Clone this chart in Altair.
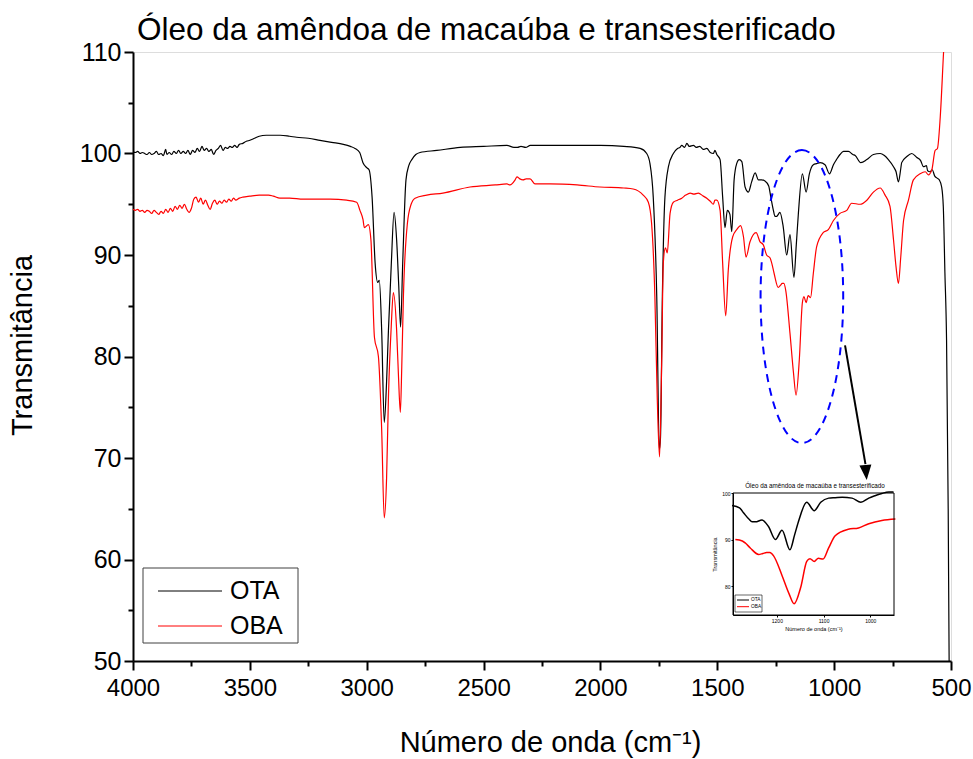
import altair as alt
import pandas as pd

TITLE = "Óleo da amêndoa de macaúba e transesterificado"
X_TITLE = "Número de onda (cm⁻¹)"
Y_TITLE = "Transmitância"
SERIES = ["OTA", "OBA"]
COLORS = ["#000000", "#ff0000"]

X_TICKS = [500, 750, 1000, 1250, 1500, 1750, 2000, 2250, 2500, 2750, 3000, 3250, 3500, 3750, 4000]
Y_TICKS = [50, 55, 60, 65, 70, 75, 80, 85, 90, 95, 100, 105, 110]
INSET_X_TICKS = [1000, 1100, 1200]
INSET_Y_TICKS = [80, 90, 100]

# (wavenumber cm-1, transmittance)
OTA = [(4000,100.2),(3990,100.1),(3980,100.2),(3970,100.0),(3960,100.1),(3950,100.0),(3940,99.9),(3930,100.1),
       (3920,99.9),(3910,100.0),(3900,100.2),(3890,99.9),(3880,100.0),(3870,99.8),(3860,100.4),(3855,99.9),
       (3845,100.1),(3835,99.9),(3825,100.2),(3815,100.0),(3805,100.3),(3795,100.0),(3785,100.2),(3775,100.0),
       (3765,100.3),(3755,99.9),(3745,100.3),(3735,100.1),(3725,100.5),(3715,100.2),(3705,100.7),(3695,100.3),
       (3685,100.5),(3675,100.2),(3665,100.4),(3655,99.9),(3645,100.3),(3635,100.5),(3625,100.8),(3615,100.3),
       (3605,100.6),(3595,100.5),(3585,100.7),(3575,100.6),(3565,100.8),(3555,100.6),(3545,100.9),(3530,101.0),
       (3515,101.2),(3500,101.3),(3480,101.5),(3460,101.7),(3430,101.8),(3400,101.8),(3370,101.8),(3330,101.7),
       (3300,101.6),(3250,101.5),(3200,101.3),(3150,101.1),(3100,100.9),(3070,100.7),(3050,100.5),(3030,100.1),
       (3016,99.1),(3000,98.6),(2990,98.4),(2977,95.7),(2964,89.2),(2953,87.3),(2946,87.5),(2936,82.6),
       (2925,73.5),(2915,77.5),(2907,82.6),(2895,89.0),(2883,94.2),(2872,91.5),(2863,87.0),(2855,82.9),
       (2846,89.2),(2832,97.4),(2820,98.8),(2807,99.4),(2790,99.9),(2772,100.1),(2700,100.3),(2600,100.6),
       (2500,100.7),(2400,100.8),(2370,100.6),(2355,100.6),(2340,100.7),(2320,100.6),(2300,100.8),(2200,100.8),
       (2100,100.8),(2000,100.8),(1900,100.7),(1830,100.5),(1802,100.0),(1788,99.0),(1774,95.7),(1759,85.9),
       (1748,70.8),(1743,72.0),(1735,85.9),(1724,95.7),(1709,98.7),(1688,100.0),(1670,100.5),(1660,100.6),
       (1652,100.8),(1640,100.6),(1630,101.0),(1620,100.7),(1602,100.8),(1590,100.6),(1575,100.7),(1560,100.4),
       (1545,100.5),(1530,100.1),(1517,100.0),(1510,100.3),(1502,99.9),(1488,99.4),(1477,95.7),(1467,92.7),
       (1457,94.4),(1446,94.0),(1438,92.3),(1428,97.4),(1417,99.0),(1406,99.4),(1395,99.2),(1381,96.7),
       (1367,96.2),(1353,97.2),(1338,98.1),(1324,97.4),(1310,97.4),(1296,97.3),(1280,96.8),(1271,95.7),
       (1260,94.4),(1253,93.8),(1246,93.8),(1232,94.2),(1218,92.8),(1203,90.0),(1189,92.0),(1172,87.8),
       (1162,91.0),(1153,94.1),(1136,98.0),(1120,96.2),(1106,98.0),(1089,98.9),(1075,99.0),(1060,99.1),
       (1039,98.9),(1020,98.0),(1003,98.9),(990,99.4),(975,99.9),(960,100.2),(950,100.2),(939,100.2),
       (920,99.9),(910,99.8),(886,99.1),(860,99.4),(832,99.9),(803,100.0),(785,99.8),(768,99.4),
       (746,98.7),(735,98.2),(725,97.2),(715,98.5),(711,99.1),(689,99.7),(668,100.0),(646,99.6),
       (630,99.3),(618,98.7),(605,98.8),(600,98.3),(590,98.2),(580,98.4),(570,97.8),(561,97.6),
       (550,97.4),(540,96.7),(533,94.8),(526,88.2),(519,81.6),(512,65.0),(508,50.0),(505,45.0)]

OBA = [(4000,94.5),(3990,94.4),(3980,94.5),(3970,94.3),(3960,94.4),(3950,94.2),(3940,94.4),(3930,94.3),
       (3920,94.1),(3910,94.4),(3900,94.2),(3890,94.0),(3880,94.3),(3870,94.1),(3860,94.5),(3850,94.2),
       (3840,94.6),(3830,94.3),(3820,94.8),(3810,94.5),(3800,94.9),(3790,94.6),(3780,95.0),(3770,94.5),
       (3760,94.2),(3750,94.6),(3740,95.5),(3730,95.7),(3720,95.2),(3710,95.6),(3700,95.0),(3690,95.4),
       (3680,94.9),(3670,94.5),(3660,95.1),(3650,95.4),(3640,95.0),(3630,95.3),(3620,95.1),(3610,95.4),
       (3600,95.2),(3590,95.5),(3580,95.3),(3570,95.6),(3560,95.4),(3545,95.6),(3530,95.7),(3500,95.8),
       (3460,95.9),(3420,95.9),(3400,95.8),(3371,95.6),(3330,95.6),(3271,95.5),(3200,95.5),(3157,95.5),
       (3086,95.4),(3043,95.2),(3029,94.4),(3016,93.5),(3010,92.7),(2993,93.0),(2982,91.5),(2967,81.9),
       (2950,80.0),(2936,72.8),(2925,64.1),(2915,68.0),(2907,76.0),(2895,83.0),(2886,86.3),(2872,82.6),
       (2864,78.0),(2856,74.5),(2850,79.0),(2843,85.9),(2826,93.1),(2810,95.0),(2793,95.6),(2743,95.9),
       (2674,96.1),(2558,96.7),(2450,96.9),(2400,97.0),(2387,96.9),(2365,97.4),(2357,97.7),(2345,97.5),
       (2331,97.4),(2318,97.5),(2301,97.5),(2280,97.0),(2216,97.0),(2100,96.9),(2002,96.7),(1900,96.6),
       (1860,96.5),(1817,95.9),(1795,95.2),(1781,93.1),(1767,85.9),(1757,76.0),(1747,70.1),(1738,79.3),
       (1731,89.2),(1722,90.7),(1714,90.2),(1702,94.1),(1688,95.2),(1670,95.4),(1652,95.6),(1635,95.9),
       (1616,96.1),(1600,96.0),(1581,96.1),(1560,95.8),(1545,95.6),(1530,95.3),(1517,95.0),(1510,95.4),
       (1502,95.4),(1488,94.4),(1477,89.2),(1464,84.0),(1453,88.5),(1434,91.8),(1417,92.5),(1400,92.9),
       (1388,91.8),(1377,89.8),(1360,91.3),(1334,92.2),(1317,91.3),(1303,91.0),(1289,90.0),(1274,89.7),
       (1267,89.2),(1257,88.2),(1239,86.8),(1230,87.0),(1222,87.2),(1215,87.2),(1207,86.5),(1189,82.3),
       (1174,78.4),(1163,76.2),(1149,79.7),(1136,85.3),(1129,85.9),(1120,85.3),(1111,86.0),(1101,85.8),
       (1089,88.2),(1075,90.8),(1047,92.2),(1025,92.5),(1003,93.4),(975,94.1),(946,94.4),(925,95.1),
       (889,95.0),(860,95.4),(832,96.2),(803,96.6),(782,95.9),(761,94.8),(746,91.5),(735,88.8),
       (725,87.2),(715,89.8),(703,93.4),(682,95.4),(661,97.4),(632,98.0),(610,98.2),(597,97.9),
       (582,98.4),(568,100.3),(558,100.5),(546,103.6),(532,109.9),(525,113.0)]

FONT = "Liberation Sans, Arial, sans-serif"

rows = [{"serie": "OTA", "wn": w, "t": t} for w, t in OTA] + \
       [{"serie": "OBA", "wn": w, "t": t} for w, t in OBA]
df = pd.DataFrame(rows)
one = pd.DataFrame({"k": [0]})

color = alt.Color("serie:N", scale=alt.Scale(domain=SERIES, range=COLORS), legend=None)

# ---------------- main plot ----------------
xs = alt.Scale(domain=[500, 4000], reverse=True, nice=False, zero=False)
ys = alt.Scale(domain=[50, 110], nice=False, zero=False)

x_axis = alt.Axis(
    title=X_TITLE, values=X_TICKS, format="d",
    labelExpr="datum.value % 500 === 0 ? datum.label : ''",
    tickSize={"condition": {"test": "datum.value % 500 === 0", "value": 9}, "value": 5},
    tickWidth=2, tickColor="black", domainColor="black", domainWidth=2,
    labelFont=FONT, labelFontSize=24, labelColor="black", labelPadding=6,
    labelFlush=False, labelOverlap=False,
    titleFont=FONT, titleFontSize=29, titleFontWeight="normal", titleColor="black",
    titleX=417, titleY=81, titleBaseline="middle", grid=False,
)
y_axis = alt.Axis(
    title=Y_TITLE, values=Y_TICKS, format="d",
    labelExpr="datum.value % 10 === 0 ? datum.label : ''",
    tickSize={"condition": {"test": "datum.value % 10 === 0", "value": 9}, "value": 5},
    tickWidth=2, tickColor="black", domainColor="black", domainWidth=2,
    labelFont=FONT, labelFontSize=25, labelColor="black", labelPadding=3,
    labelFlush=False, labelOverlap=False,
    titleFont=FONT, titleFontSize=29, titleFontWeight="normal", titleColor="black",
    titleAngle=270, titleX=-111, titleY=293, titleBaseline="middle", grid=False,
)

lines = alt.Chart(df).mark_line(clip=True, interpolate="monotone", strokeWidth=1.2).encode(
    x=alt.X("wn:Q", scale=xs, axis=x_axis),
    y=alt.Y("t:Q", scale=ys, axis=y_axis),
    color=color,
)

title_text = alt.Chart(one).mark_text(
    text=TITLE, font=FONT, fontSize=31.5, align="left", baseline="alphabetic", color="black"
).encode(x=alt.value(4), y=alt.value(-12))

ELLIPSE = "M0,-1A0.282,1 0 1,1 0,1A0.282,1 0 1,1 0,-1Z"
ellipse = alt.Chart(one).mark_point(
    shape=ELLIPSE, size=85849, filled=False, color="#0000ff", stroke="#0000ff",
    strokeWidth=2, strokeDash=[8, 6], opacity=1,
).encode(x=alt.XDatum(1138), y=alt.YDatum(85.9))

arrow = alt.Chart(one).mark_rule(color="black", strokeWidth=2).encode(
    x=alt.XDatum(953.4), y=alt.YDatum(81.1), x2=alt.X2Datum(866.0), y2=alt.Y2Datum(69.4)
)
HEAD = "M-0.75,-0.9375L0.75,-0.9375L0,0.9375Z"
head = alt.Chart(one).mark_point(
    shape=HEAD, size=256, filled=True, color="black", opacity=1, angle=355
).encode(x=alt.XDatum(863.5), y=alt.YDatum(68.57))

leg_box = alt.Chart(one).mark_rect(fill="white", stroke="#404040", strokeWidth=1).encode(
    x=alt.value(10), x2=alt.value(165), y=alt.value(516), y2=alt.value(591)
)
legend_layers = [leg_box]
for i, (name, col) in enumerate(zip(SERIES, COLORS)):
    yy = 539 + 35 * i
    legend_layers.append(
        alt.Chart(one).mark_rule(color=col, strokeWidth=1).encode(
            x=alt.value(25), x2=alt.value(89), y=alt.value(yy))
    )
    legend_layers.append(
        alt.Chart(one).mark_text(text=name, font=FONT, fontSize=25, align="left",
                                 baseline="middle", color="black").encode(
            x=alt.value(97), y=alt.value(yy))
    )

main = alt.layer(lines, title_text, ellipse, arrow, head, *legend_layers)

# ---------------- inset ----------------
ixs = alt.Scale(domain=[949, 1294], range=[761, 600], nice=False, zero=False)
iys = alt.Scale(domain=[73.8, 100], range=[563, 441], nice=False, zero=False)
ix_axis = alt.Axis(
    orient="bottom", offset=-46, values=INSET_X_TICKS, format="d",
    tickSize=2, tickWidth=1, tickColor="black", domainColor="black", domainWidth=1,
    labelFont=FONT, labelFontSize=5, labelColor="black", labelPadding=1,
    labelFlush=False, labelOverlap=False,
    title=X_TITLE, titleFont=FONT, titleFontSize=5.5, titleFontWeight="normal",
    titleColor="black", titlePadding=3, grid=False,
)
iy_axis = alt.Axis(
    orient="left", offset=-600, values=INSET_Y_TICKS, format="d",
    tickSize=2, tickWidth=1, tickColor="black", domainColor="black", domainWidth=1,
    labelFont=FONT, labelFontSize=5, labelColor="black", labelPadding=1,
    labelFlush=False, labelOverlap=False,
    title=Y_TITLE, titleFont=FONT, titleFontSize=5.5, titleFontWeight="normal",
    titleColor="black", titlePadding=4, grid=False,
)
inset_lines = alt.Chart(df).transform_filter(
    "datum.wn >= 945 && datum.wn <= 1300"
).mark_line(interpolate="monotone", strokeWidth=1.5).encode(
    x=alt.X("wn:Q", scale=ixs, axis=ix_axis),
    y=alt.Y("t:Q", scale=iys, axis=iy_axis),
    color=color,
)
inset_frame = alt.Chart(one).mark_rect(filled=False, stroke="black", strokeWidth=1).encode(
    x=alt.XDatum(1294), x2=alt.X2Datum(949), y=alt.YDatum(73.8), y2=alt.Y2Datum(100)
)
inset_title = alt.Chart(one).mark_text(text=TITLE, font=FONT, fontSize=6.3, color="black").encode(
    x=alt.value(682), y=alt.value(434)
)
inset_leg = [
    alt.Chart(one).mark_rect(fill="white", stroke="black", strokeWidth=0.6).encode(
        x=alt.value(602), x2=alt.value(629), y=alt.value(543), y2=alt.value(560))
]
for i, (name, col) in enumerate(zip(SERIES, COLORS)):
    yy = 548 + 6.7 * i
    inset_leg.append(alt.Chart(one).mark_rule(color=col, strokeWidth=1).encode(
        x=alt.value(604), x2=alt.value(616), y=alt.value(yy)))
    inset_leg.append(alt.Chart(one).mark_text(text=name, font=FONT, fontSize=4.8, align="left",
                                              baseline="middle", color="black").encode(
        x=alt.value(618), y=alt.value(yy)))

inset = alt.layer(inset_lines, inset_frame, inset_title, *inset_leg)

chart = alt.layer(main, inset).resolve_scale(x="independent", y="independent").properties(
    width=818, height=609,
    autosize=alt.AutoSizeParams(type="none"),
    padding={"left": 133, "top": 52, "right": 22, "bottom": 98},
).configure_view(stroke="#666666", strokeWidth=2).configure(background="white")

chart.save("out.html", embed_options={"renderer": "svg", "actions": False})
